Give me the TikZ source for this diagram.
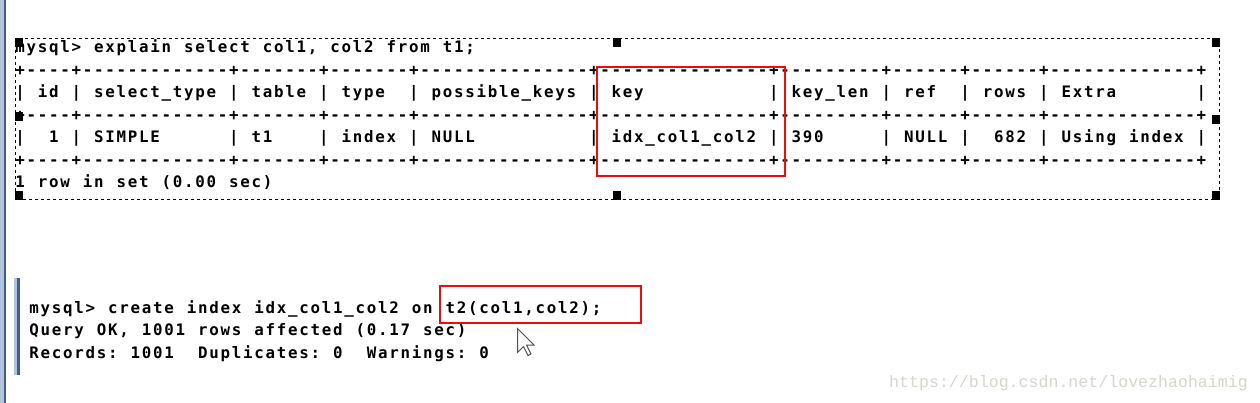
\documentclass[tikz,border=0pt]{standalone}
\usepackage{fontspec}
\newfontfamily\termfont{DejaVu Sans Mono}
\newfontfamily\wmfont{Liberation Mono}
\definecolor{redbox}{RGB}{236,12,12}
\definecolor{barlight}{RGB}{176,196,222}
\definecolor{bardark}{RGB}{70,92,128}
\definecolor{wmgray}{RGB}{214,214,206}
\definecolor{curgray}{RGB}{80,80,80}
\ExplSyntaxOn
\NewDocumentCommand\tline{m}{
  \str_map_inline:nn {#1} {
    \str_if_eq:nnTF {##1} {!}
      { \hbox_to_wd:nn {11.25pt} { \hfil } }
      { \hbox_to_wd:nn {11.25pt} { \hfil ##1 \hfil } }
  }
}
\ExplSyntaxOff
\tikzset{
  term/.style={anchor=base west, inner sep=0pt, outer sep=0pt,
    font=\termfont\bfseries\fontsize{15.8}{18}\selectfont, text=black},
  hl/.style={draw=redbox, line width=2pt},
  handle/.style={fill=black},
  sel/.style={draw=black, line width=1pt, dash pattern=on 3pt off 3pt},
}
\begin{document}
\begin{tikzpicture}[x=1pt,y=-1pt]
\useasboundingbox (0,0) rectangle (1260,403);
\fill[white] (0,0) rectangle (1260,403);
% window edge bars
\fill[barlight] (0,0) rectangle (4,403);
\fill[bardark] (4,0) rectangle (5.5,403);
\fill[barlight] (14,278) rectangle (17,375);
\fill[bardark] (17,278) rectangle (20,375);
% top block
\def\xa{14.5}
\node[term] (q1) at (\xa,53) {\tline{mysql>!explain!select!col1,!col2!from!t1;}};
\node[term] (b1) at (\xa,75.5) {\tline{+----+-------------+-------+-------+---------------+---------------+---------+------+------+-------------+}};
\node[term] (hd) at (\xa,98) {\tline{|!id!|!select_type!|!table!|!type!!|!possible_keys!|!key!!!!!!!!!!!|!key_len!|!ref!!|!rows!|!Extra!!!!!!!|}};
\node[term] (b2) at (\xa,120.5) {\tline{+----+-------------+-------+-------+---------------+---------------+---------+------+------+-------------+}};
\node[term] (rw) at (\xa,143) {\tline{|!!1!|!SIMPLE!!!!!!|!t1!!!!|!index!|!NULL!!!!!!!!!!|!idx_col1_col2!|!390!!!!!|!NULL!|!!682!|!Using!index!|}};
\node[term] (b3) at (\xa,165.5) {\tline{+----+-------------+-------+-------+---------------+---------------+---------+------+------+-------------+}};
\node[term] (st) at (\xa,188) {\tline{1!row!in!set!(0.00!sec)}};
% selection rectangle and handles
\draw[sel] (15.5,38.5) rectangle (1219.5,199.5);
\foreach \hx/\hy in {15/38, 613/38, 1212/38, 15/112, 1212/115, 15/191, 613/191, 1212/191}
  \fill[handle] (\hx,\hy) rectangle ++(8,9);
% red highlight 1
\draw[hl] (597,67) rectangle (785,176);
% bottom block
\def\xb{28.5}
\node[term] (c1) at (\xb,313) {\tline{mysql>!create!index!idx_col1_col2!on!t2(col1,col2);}};
\node[term] (c2) at (\xb,335.5) {\tline{Query!OK,!1001!rows!affected!(0.17!sec)}};
\node[term] (c3) at (\xb,358) {\tline{Records:!1001!!Duplicates:!0!!Warnings:!0}};
% red highlight 2
\draw[hl] (440,286) rectangle (641,323);
% mouse cursor
\draw[fill=white, draw=curgray, line width=1pt, line join=miter]
  (517.5,328.5) -- ++(0,24) -- ++(6,-6) -- ++(4.5,9) -- ++(3,-1.5) -- ++(-4.5,-9) -- ++(7.5,0) -- cycle;
% watermark
\node[anchor=base west, inner sep=0pt, text=wmgray,
  font=\wmfont\fontsize{16.6}{18}\selectfont] (wm) at (889,387) {https://blog.csdn.net/lovezhaohaimig};
\end{tikzpicture}
\end{document}
